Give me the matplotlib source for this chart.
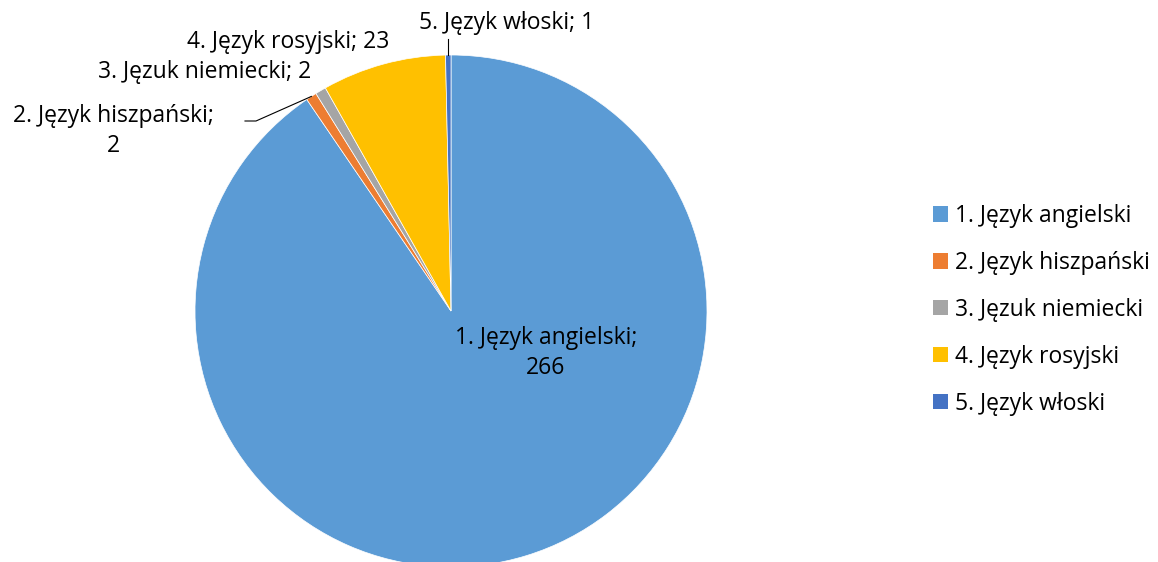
import numpy as np
import matplotlib
matplotlib.use("Agg")
import matplotlib.pyplot as plt
from matplotlib.patches import Patch

categories = ["1. Język angielski", "2. Język hiszpański", "3. Jęzuk niemiecki",
              "4. Język rosyjski", "5. Język włoski"]
values = [266, 2, 2, 23, 1]
colors = ["#5B9BD5", "#ED7D31", "#A5A5A5", "#FFC000", "#4472C4"]

W, H = 1158, 562
plt.rcParams['font.family'] = ['Open Sans', 'DejaVu Sans']
fig = plt.figure(figsize=(W / 100, H / 100), dpi=100)
ax = fig.add_axes([0, 0, 1, 1])

cx, cy, r = 451, 251, 256
wedges, _ = ax.pie(values, colors=colors, startangle=90, counterclock=False,
                   center=(cx, cy), radius=r, frame=True,
                   wedgeprops=dict(linewidth=0.5, edgecolor='white'))
ax.set_xlim(0, W)
ax.set_ylim(0, H)
ax.set_aspect('equal')
ax.axis('off')

fs = 16.5
def y(p):
    return H - p

ax.text(546, y(353), f"{categories[0]};\n{values[0]}", ha='center', va='center',
        fontsize=fs, linespacing=1.3)
ax.text(113, y(131), f"{categories[1]};\n{values[1]}", ha='center', va='center',
        fontsize=fs, linespacing=1.35)
ax.text(205, y(72), f"{categories[2]}; {values[2]}", ha='center', va='center', fontsize=fs)
ax.text(288, y(42), f"{categories[3]}; {values[3]}", ha='center', va='center', fontsize=fs)
ax.text(507, y(23), f"{categories[4]}; {values[4]}", ha='center', va='center', fontsize=fs)

def edge_point(w):
    ang = np.deg2rad((w.theta1 + w.theta2) / 2)
    return cx + r * np.cos(ang), cy + r * np.sin(ang)

ex, ey = edge_point(wedges[1])
ax.plot([245, 256, ex], [y(121), y(121), ey], color='black', lw=0.8)
ex, ey = edge_point(wedges[4])
ax.plot([ex, ex], [ey, y(39)], color='black', lw=0.8)

handles = [Patch(facecolor=c, edgecolor='none') for c in colors]
leg = fig.legend(handles, categories, loc='upper left', bbox_to_anchor=(933 / W, 1 - 204 / H),
                 frameon=False, fontsize=fs, handlelength=0.65, handleheight=0.65,
                 handletextpad=0.3, labelspacing=1.0, borderpad=0, borderaxespad=0)

fig.savefig("out.png", dpi=100)
